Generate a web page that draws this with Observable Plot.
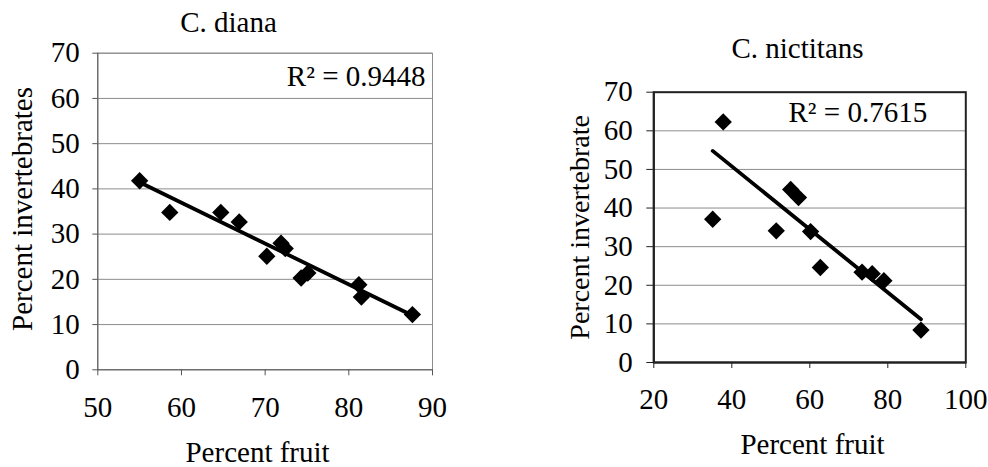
<!DOCTYPE html>
<html><head><meta charset="utf-8">
<script src="https://cdn.jsdelivr.net/npm/d3@7"></script>
<script src="https://cdn.jsdelivr.net/npm/@observablehq/plot@0.6"></script>
<style>
body{margin:0;background:#fff;}
#wrap{position:relative;width:988px;height:467px;overflow:hidden;background:#fff;}
#wrap svg{position:absolute;top:0;overflow:visible;}
#wrap svg text{font-family:'Liberation Serif','Times New Roman',Times,serif;}
</style></head><body><div id="wrap"></div>
<script>
// ---- data ----
const dianaFruit  = [55.0, 58.6, 64.7, 66.9, 70.2, 71.9, 72.4, 74.3, 75.1, 81.2, 81.5, 87.6];
const dianaInvert = [41.8, 34.8, 34.8, 32.7, 25.1, 28.0, 26.8, 20.3, 21.4, 18.8, 16.1, 12.2];
const dianaTrendFruit  = [55.3, 87.6];
const dianaTrendInvert = [41.2, 12.0];
const dianaR2 = "R\u00b2 = 0.9448";

const nictFruit  = [35.1, 37.8, 51.4, 55.1, 57.1, 60.2, 62.7, 73.4, 76.0, 79.0, 88.5];
const nictInvert = [37.1, 62.3, 34.1, 44.8, 42.7, 33.9, 24.6, 23.4, 23.0, 21.2, 8.4];
const nictTrendFruit  = [35.1, 88.5];
const nictTrendInvert = [54.8, 11.2];
const nictR2 = "R\u00b2 = 0.7615";

const dianaXTicks = [50, 60, 70, 80, 90];
const nictXTicks  = [20, 40, 60, 80, 100];
const yTicks = [0, 10, 20, 30, 40, 50, 60, 70];
const titles = ["C. diana", "C. nictitans"];
const xLabel = "Percent fruit";
const yLabels = ["Percent invertebrates", "Percent invertebrate"];

// ---- build tables ----
const pts = (xs, ys) => xs.map((x, i) => ({fruit: x, invert: ys[i]}));
const dianaPts = pts(dianaFruit, dianaInvert);
const dianaTrend = pts(dianaTrendFruit, dianaTrendInvert);
const nictPts = pts(nictFruit, nictInvert);
const nictTrend = pts(nictTrendFruit, nictTrendInvert);

const FONT = "'Liberation Serif', 'Times New Roman', Times, serif";
const FS = 29;
const wrap = document.getElementById("wrap");

function panel(o) {
  const svg = Plot.plot({
    width: o.width, height: o.height,
    marginLeft: o.ml, marginRight: o.mr, marginTop: o.mt, marginBottom: o.mb,
    style: {fontFamily: FONT, fontSize: FS + "px", color: "#000", background: "transparent", overflow: "visible"},
    x: {domain: o.xDomain},
    y: {domain: [0, 70]},
    marks: [
      Plot.gridY(yTicks.slice(1), {stroke: "#8c8c8c", strokeOpacity: 1, strokeWidth: 1}),
      Plot.frame({stroke: o.frameColor, strokeWidth: o.frameWidth}),
      Plot.ruleX([o.xDomain[0]], {stroke: o.axisColor, strokeWidth: o.frameWidth}),
      Plot.ruleY([0], {stroke: o.axisColor, strokeWidth: o.frameWidth}),
      Plot.axisY({ticks: yTicks, tickSize: o.yTickSize, tickPadding: o.yTickPad, label: null,
        fontSize: FS, fontFamily: FONT, fill: "#000", stroke: o.axisColor}),
      Plot.axisX({ticks: o.xTicks, tickSize: 6, tickPadding: o.xTickPad, label: null,
        fontSize: FS, fontFamily: FONT, fill: "#000", stroke: o.axisColor}),
      Plot.line(o.trend, {x: "fruit", y: "invert", stroke: "#000", strokeWidth: 3.8}),
      Plot.dot(o.pts, {x: "fruit", y: "invert", symbol: "diamond2", r: 7.8, fill: "#000", stroke: "none"}),
      Plot.text([o.title], {text: d => d, frameAnchor: "top", textAnchor: "middle", dx: o.titleDx, dy: o.titleDy,
        lineAnchor: "middle", fontSize: FS, fontFamily: FONT, fill: "#000"}),
      Plot.text([o.r2], {text: d => d, frameAnchor: o.r2Anchor, textAnchor: o.r2Text, dx: o.r2Dx, dy: o.r2Dy,
        lineAnchor: "middle", fontSize: FS, fontFamily: FONT, fill: "#000"}),
      Plot.text([xLabel], {text: d => d, frameAnchor: "bottom", textAnchor: "middle", dx: o.xlDx, dy: o.xlDy,
        lineAnchor: "middle", fontSize: FS, fontFamily: FONT, fill: "#000"}),
      Plot.text([o.yLabel], {text: d => d, frameAnchor: "left", textAnchor: "middle", dx: o.ylDx, dy: o.ylDy, rotate: -90,
        lineAnchor: "middle", fontSize: o.ylFs, fontFamily: FONT, fill: "#000"})
    ]
  });
  svg.style.left = o.left + "px";
  wrap.appendChild(svg);
}

panel({
  left: 0, width: 470, height: 467, ml: 97.3, mr: 38, mt: 52.7, mb: 97.7,
  xDomain: [50, 90], xTicks: dianaXTicks, pts: dianaPts, trend: dianaTrend,
  frameColor: "#8c8c8c", frameWidth: 1, axisColor: "#555",
  yTickSize: 5, yTickPad: 13, xTickPad: 21,
  title: titles[0], titleDx: -36.6, titleDy: -30.5,
  r2: dianaR2, r2Anchor: "top-right", r2Text: "end", r2Dx: -7, r2Dy: 23.5,
  xlDx: -7.6, xlDy: 83, yLabel: yLabels[0], ylDx: -74.8, ylDy: -2.5, ylFs: 29
});

panel({
  left: 494, width: 494, height: 467, ml: 159.3, mr: 22.7, mt: 91.7, mb: 105,
  xDomain: [20, 100], xTicks: nictXTicks, pts: nictPts, trend: nictTrend,
  frameColor: "#222", frameWidth: 2, axisColor: "#222",
  yTickSize: 7, yTickPad: 14, xTickPad: 20,
  title: titles[1], titleDx: -12.3, titleDy: -43.4,
  r2: nictR2, r2Anchor: "top-left", r2Text: "start", r2Dx: 134.7, r2Dy: 20.8,
  xlDx: 2.7, xlDy: 82, yLabel: yLabels[1], ylDx: -73.3, ylDy: 0, ylFs: 28
});
</script></body></html>
